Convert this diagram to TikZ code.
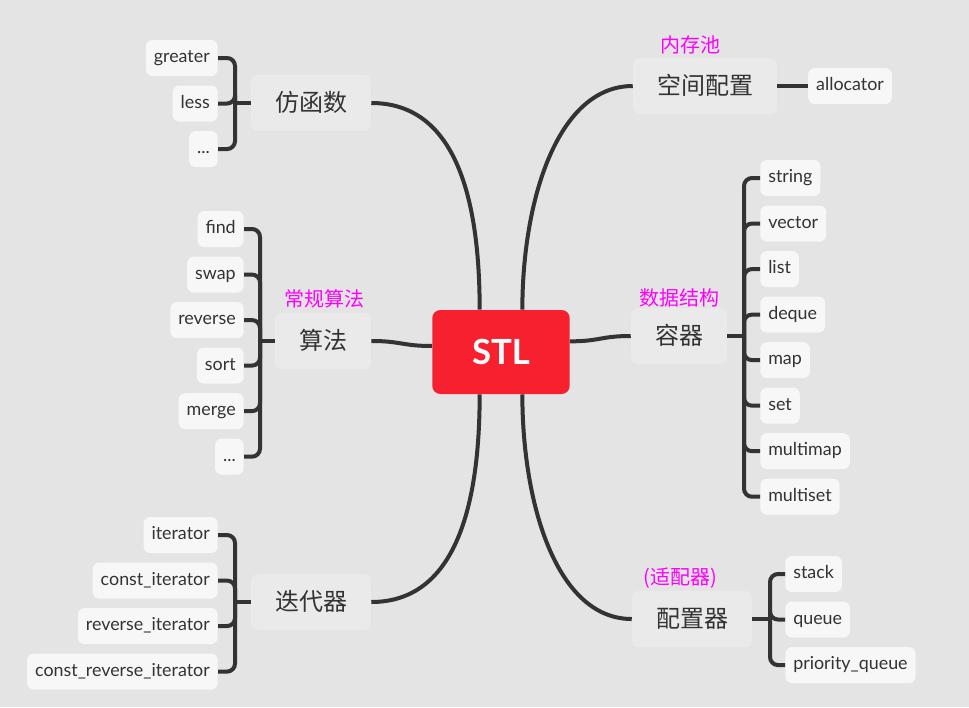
\documentclass[tikz,border=0pt]{standalone}
\usepackage{fontspec}
\setmainfont{Lato}
\newfontfamily\cjk{Noto Sans CJK SC}
\usetikzlibrary{positioning}

\definecolor{bgcol}{HTML}{E4E4E4}
\definecolor{topiccol}{HTML}{EAEAEA}
\definecolor{leafcol}{HTML}{F7F7F7}
\definecolor{inkcol}{HTML}{333333}
\definecolor{stlred}{HTML}{F7202F}
\definecolor{notecol}{HTML}{FF00FF}

\tikzset{
	root/.style={
		rectangle, rounded corners=6pt,
		fill=stlred, text=white,
		minimum width=103pt, minimum height=63pt,
		font=\fontsize{26}{30}\selectfont\bfseries,
	},
	topic/.style={
		rectangle, rounded corners=5pt,
		fill=topiccol, text=inkcol,
		minimum height=42pt, inner xsep=18pt,
		text height=15pt, text depth=3pt,
		font=\cjk\fontsize{18}{22}\selectfont,
	},
	leaf/.style={
		rectangle, rounded corners=5pt,
		fill=leafcol, text=inkcol,
		minimum height=27pt, inner xsep=6pt, inner ysep=2pt,
		text height=9.5pt, text depth=2.5pt,
		font=\fontsize{13.4}{15}\selectfont,
	},
	note/.style={text=notecol, inner sep=0pt, font=\cjk\fontsize{15}{18}\selectfont},
	link/.style={draw=inkcol, line width=3pt},
	brace line/.style={draw=inkcol, line width=3pt, rounded corners=6pt},
}

\begin{document}
\begin{tikzpicture}[x=0.75pt, y=-0.75pt]
	\fill[bgcol] (0,0) rectangle (969,707);
	
	\node[root](STL) at (501,352){STL};
	
	\node[topic](FHS) at (311,103){仿函数};
	\node[topic](SF) at (323,341){算法};
	\node[topic](DDQ) at (311,602){迭代器};
	\node[topic](KJPZ) at (705,86){空间配置};
	\node[topic](RQ) at (679,336){容器};
	\node[topic](PZQ) at (692,619){配置器};
	
	\node[note](SFn) at (324,299){常规算法};
	\node[note](KJPZn) at (690,45){内存池};
	\node[note](RQn) at (679,298){数据结构};
	\node[note](PZQn) at (680,578){(适配器)};
	
	\draw[link] (FHS.east) .. controls +(85,0) and +(0,-110) .. ([xshift=-16pt]STL.north);
	\draw[link] (KJPZ.west) .. controls +(-75,0) and +(0,-110) .. ([xshift=16pt]STL.north);
	\draw[link] (DDQ.east) .. controls +(85,0) and +(0,110) .. ([xshift=-16pt]STL.south);
	\draw[link] (PZQ.west) .. controls +(-75,0) and +(0,110) .. ([xshift=16pt]STL.south);
	\draw[link] (SF.east) .. controls +(30,0) and +(-30,0) .. ([yshift=4.5pt]STL.west);
	\draw[link] (RQ.west) .. controls +(-30,0) and +(30,0) .. ([yshift=8pt]STL.east);
	
	% functors
	\node[leaf, anchor=east](greater) at (218,58){greater};
	\node[leaf, below=6.75pt of greater.south east, anchor=north east](less){less};
	\node[leaf, below=6.75pt of less.south east, anchor=north east](FHSdots){...};
	\coordinate(FHSb) at (235,103);
	\draw[link] (FHS.west) -- (FHSb);
	\foreach \l in {greater,less,FHSdots}
		\draw[brace line] (FHSb) |- (\l.east);
	
	% algorithms
	\node[leaf, anchor=east](find) at (244,229){find};
	\node[leaf, below=6.75pt of find.south east, anchor=north east](swap){swap};
	\node[leaf, below=6.75pt of swap.south east, anchor=north east](reverse){reverse};
	\node[leaf, below=6.75pt of reverse.south east, anchor=north east](sort){sort};
	\node[leaf, below=6.75pt of sort.south east, anchor=north east](merge){merge};
	\node[leaf, below=6.75pt of merge.south east, anchor=north east](SFdots){...};
	\coordinate(SFb) at (260,341);
	\draw[link] (SF.west) -- (SFb);
	\foreach \l in {find,swap,reverse,sort,merge,SFdots}
		\draw[brace line] (SFb) |- (\l.east);
	
	% iterators
	\node[leaf, anchor=east](it) at (218,535){iterator};
	\node[leaf, below=6.75pt of it.south east, anchor=north east](cit){const\_iterator};
	\node[leaf, below=6.75pt of cit.south east, anchor=north east](rit){reverse\_iterator};
	\node[leaf, below=6.75pt of rit.south east, anchor=north east](crit){const\_reverse\_iterator};
	\coordinate(DDQb) at (235,602);
	\draw[link] (DDQ.west) -- (DDQb);
	\foreach \l in {it,cit,rit,crit}
		\draw[brace line] (DDQb) |- (\l.east);
	
	% allocator
	\node[leaf, right=23pt of KJPZ](alloc){allocator};
	\draw[link] (KJPZ.east) -- (alloc.west);
	
	% containers
	\node[leaf, anchor=west](string) at (760,178){string};
	\node[leaf, below=6.75pt of string.south west, anchor=north west](vector){vector};
	\node[leaf, below=6.75pt of vector.south west, anchor=north west](list){list};
	\node[leaf, below=6.75pt of list.south west, anchor=north west](deque){deque};
	\node[leaf, below=6.75pt of deque.south west, anchor=north west](map){map};
	\node[leaf, below=6.75pt of map.south west, anchor=north west](set){set};
	\node[leaf, below=6.75pt of set.south west, anchor=north west](multimap){multimap};
	\node[leaf, below=6.75pt of multimap.south west, anchor=north west](multiset){multiset};
	\coordinate(RQb) at (744,336);
	\draw[link] (RQ.east) -- (RQb);
	\foreach \l in {string,vector,list,deque,map,set,multimap,multiset}
		\draw[brace line] (RQb) |- (\l.west);
	
	% adapters
	\node[leaf, anchor=west](stack) at (785,574){stack};
	\node[leaf, below=6.75pt of stack.south west, anchor=north west](queue){queue};
	\node[leaf, below=6.75pt of queue.south west, anchor=north west](pq){priority\_queue};
	\coordinate(PZQb) at (770,619);
	\draw[link] (PZQ.east) -- (PZQb);
	\foreach \l in {stack,queue,pq}
		\draw[brace line] (PZQb) |- (\l.west);
\end{tikzpicture}
\end{document}
